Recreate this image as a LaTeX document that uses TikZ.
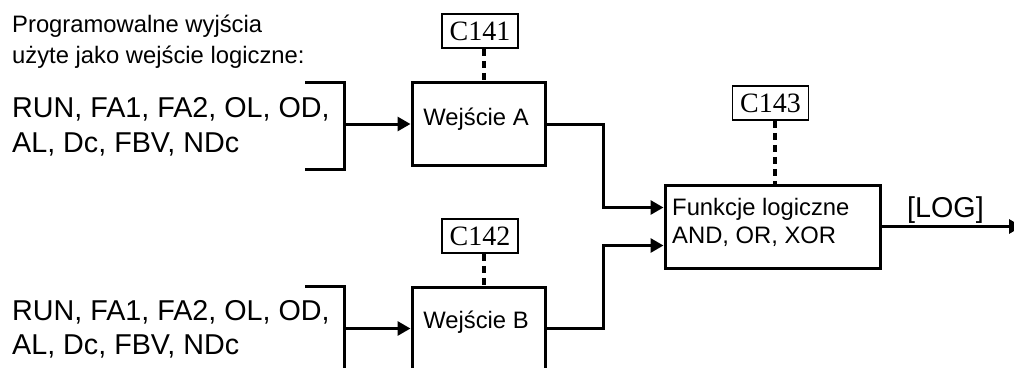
\documentclass[tikz,border=0pt]{standalone}
\usepackage{fontspec}
\setmainfont{Liberation Sans}
\newfontfamily\serifC{Liberation Serif}
\usetikzlibrary{arrows.meta}
\begin{document}
\begin{tikzpicture}[x=1pt,y=-1pt,
  blk/.style={draw,line width=3pt,inner sep=0pt},
  par/.style={draw,line width=1.6pt,inner sep=0pt,minimum width=76pt,minimum height=34pt,font=\serifC\fontsize{28}{28}\selectfont},
  wire/.style={line width=3pt},
  arr/.style={wire,-{Triangle[length=13pt,width=14pt]}},
  dsh/.style={line width=3.5pt,dash pattern=on 7pt off 5pt},
  small/.style={font=\fontsize{23.8}{28}\selectfont,inner sep=0pt},
  big/.style={font=\fontsize{28.7}{36}\selectfont,inner sep=0pt,anchor=base west}]
\useasboundingbox (0,0) rectangle (1014,367);

% title
\node[small,anchor=base west] (t1) at (12,32) {Programowalne wyjścia};
\node[small,anchor=base west] (t2) at (12,63) {użyte jako wejście logiczne:};

% input lists
\node[big] (la1) at (12,117.5) {RUN, FA1, FA2, OL, OD,};
\node[big] (la2) at (12,152) {AL, Dc, FBV, NDc};
\node[big] (lb1) at (12,320) {RUN, FA1, FA2, OL, OD,};
\node[big] (lb2) at (12,354.5) {AL, Dc, FBV, NDc};

% blocks
\node[blk,minimum width=133pt,minimum height=83pt] (boxA) at (478.5,124) {};
\node[blk,minimum width=133pt,minimum height=83pt] (boxB) at (478.5,328.5) {};
\node[blk,minimum width=215pt,minimum height=83pt] (logic) at (772.5,226.5) {};

\node[small,anchor=base] (tA) at (476,125) {Wejście A};
\node[small,anchor=base] (tB) at (476,328) {Wejście B};
\node[small,anchor=base west] (tl1) at (672,215) {Funkcje logiczne};
\node[small,anchor=base west] (tl2) at (672,243) {AND, OR, XOR};

% parameter boxes
\node[par] (p141) at (480,31) {C141};
\node[par] (p142) at (480,236) {C142};
\node[par] (p143) at (770.5,103) {C143};
\draw[dsh] ([xshift=4pt]p141.south) -- ([xshift=4pt]p141.south |- boxA.north);
\draw[dsh] ([xshift=4pt]p142.south) -- ([xshift=4pt]p142.south |- boxB.north);
\draw[dsh] ([xshift=4.5pt]p143.south) -- ([xshift=4.5pt]p143.south |- logic.north);

% brackets
\coordinate (bat) at (305,82);
\coordinate (bac) at (344,124);
\coordinate (bab) at (305,169);
\draw[wire] (bat) -| (bac) |- (bab);
\coordinate (bbt) at (305,286);
\coordinate (bbc) at (344,328.5);
\coordinate (bbb) at (344,372);
\draw[wire] (bbt) -| (bbc) -- (bbb);
\draw[arr] (bac) -- (boxA.west);
\draw[arr] (bbc) -- (boxB.west);

% wires to logic
\draw[arr] (boxA.east) -- ++(57,0) |- ([yshift=19pt]logic.west);
\draw[arr] (boxB.east) -- ++(57,0) |- ([yshift=-19pt]logic.west);

% output
\coordinate (out) at (1022,226.5);
\draw[arr] (logic.east) -- (out);
\node[big] (log) at (907,217) {[LOG]};
\end{tikzpicture}
\end{document}
